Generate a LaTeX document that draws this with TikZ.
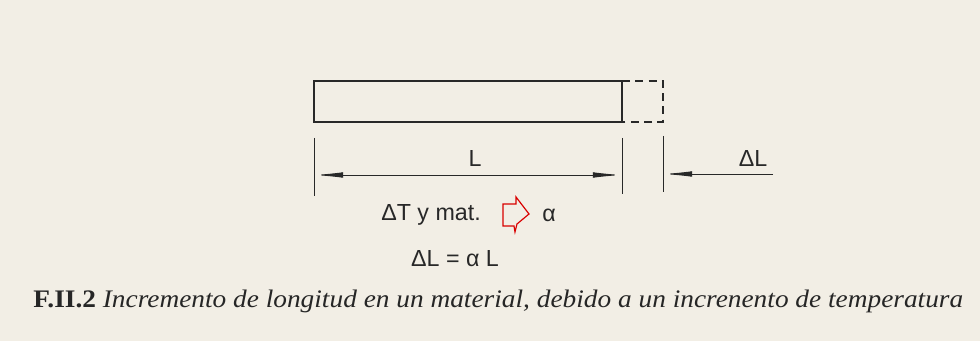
\documentclass[tikz,border=0pt]{standalone}
\usepackage{fontspec}
\setmainfont{Liberation Serif}
\setsansfont{Liberation Sans}
\usetikzlibrary{arrows.meta}
\definecolor{paper}{RGB}{242,238,229}
\definecolor{ink}{RGB}{40,40,40}

\begin{document}
\begin{tikzpicture}[x=0.02646cm,y=-0.02646cm,
    dim/.style={draw=ink, line width=0.7pt},
    dimarrow/.style={dim, -{Latex[length=22pt,width=4.2pt]}},
    lab/.style={font=\sffamily\fontsize{17.5}{20}\selectfont, text=ink, inner sep=0pt}]
                \fill[paper] (0,0) rectangle (980,341);
                % bar and its elongation
                \draw[ink, line width=1.2pt] (314,81) rectangle (622,122);
                \draw[ink, line width=1.2pt, dash pattern=on 6pt off 4pt] (622,81) -| (663,122) -- (622,122);
                % extension lines
                \coordinate (a0) at (314,138); \coordinate (a1) at (314,196);
                \coordinate (b0) at (622,138); \coordinate (b1) at (622,194);
                \coordinate (c0) at (663,136); \coordinate (c1) at (663,192);
                \draw[dim] (a0) -- (a1);
                \draw[dim] (b0) -- (b1);
                \draw[dim] (c0) -- (c1);
                % dimension lines
                \coordinate (lmid) at (468,175);
                \coordinate (l1) at (314,175);
                \coordinate (l2) at (622,175);
                \draw[dimarrow] (lmid) -- (l1);
                \draw[dimarrow] (lmid) -- (l2);
                \coordinate (d0) at (773,174);
                \coordinate (d1) at (663,174);
                \draw[dimarrow] (d0) -- (d1);
                \node[lab] (L) at (475,159) {L};
                \node[lab] (dL) at (753,159) {ΔL};
                % relation
                \node[lab, anchor=east] (temp) at (481,215) {ΔT y mat.};
                \draw[red!85!black, line width=0.9pt, line join=miter]
                    (503,204) -- (516,204) -- (516,197) -- (529,214) -- (517,224) -- (515,232) -- (514,226) -- (503,226) -- cycle;
                \node[lab] (alpha) at (549,215) {α};
                \node[lab] (eq) at (455,259) {ΔL = α L};
                % caption
                \node[anchor=west, inner sep=0pt, text=black!85] (cap) at (33,301)
                    {\scalebox{1.083}[1]{\fontsize{19}{22}\selectfont\textbf{F.II.2} \textit{Incremento de longitud en un material, debido a un increnento de temperatura}}};
            \end{tikzpicture}
\end{document}
